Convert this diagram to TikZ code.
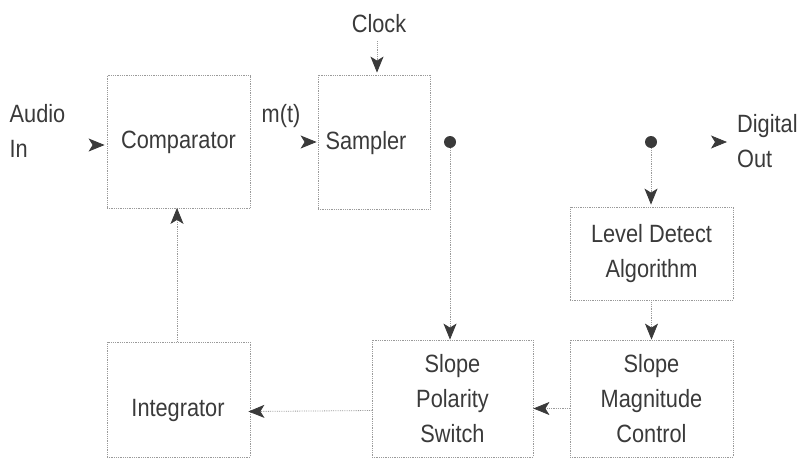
\documentclass[tikz,border=0pt]{standalone}
\usepackage{fontspec}
\setmainfont{Liberation Sans}[FakeStretch=0.87]
\usetikzlibrary{arrows.meta}
\definecolor{ink}{HTML}{3A3A3A}
\definecolor{edge}{HTML}{9A9A9A}
\tikzset{
  box/.style={draw=edge, densely dotted, line width=0.8pt, inner sep=0pt, text=ink, align=center},
  txt/.style={inner sep=0pt, text=ink, align=center},
  arr/.style={draw=edge, densely dotted, line width=0.8pt,
    -{Stealth[length=16pt, width=13pt, inset=4pt, color=ink]}},
  headonly/.style={draw=white},
  junction/.style={circle, fill=ink, inner sep=0pt, minimum size=12pt}
}
\begin{document}
\begin{tikzpicture}[x=1pt, y=-1pt]
\fontsize{25}{35}\selectfont
\useasboundingbox (0,0) rectangle (798,458);
% boxes
\node[box, minimum width=143pt, minimum height=133pt] (cmp) at (178.5,142) {Comparator};
\node[box, minimum width=112pt, minimum height=134pt] (smp) at (374,142) {};
\node[txt] (smpt) at (366,143) {Sampler};
\node[box, minimum width=163pt, minimum height=93pt] (lvl) at (651.5,253.5) {Level Detect\\Algorithm};
\node[box, minimum width=163pt, minimum height=117pt] (mag) at (651.5,398.5) {Slope\\Magnitude\\Control};
\node[box, minimum width=161pt, minimum height=117pt] (pol) at (452.5,398.5) {Slope\\Polarity\\Switch};
\node[box, minimum width=143pt, minimum height=115pt] (int) at (178.5,399.5) {};
\node[txt] (intt) at (178,410) {Integrator};
% labels
\node[txt, align=left] (audio) at (37.5,131) {Audio\\In};
\node[txt] (mt) at (281,116) {m(t)};
\node[txt] (clock) at (379,24) {Clock};
\node[txt, align=left, anchor=west] (dout) at (737,141) {Digital\\Out};
% junctions
\node[junction] (j1) at (450,142) {};
\node[junction] (j2) at (651,142) {};
% connectors
\draw[arr, headonly, shorten <=26pt, shorten >=2pt] ([yshift=-3pt]audio.east |- cmp.west) -- ([yshift=-3pt]cmp.west);
\draw[arr, headonly, shorten <=50pt, shorten >=1pt] (cmp.east) -- (smp.west);
\draw[arr, shorten <=8pt, shorten >=2pt] (clock.south -| 377,0) -- (377,0 |- smp.north);
\draw[arr, shorten >=0pt] (j1) -- (j1 |- pol.north);
\draw[arr, shorten >=2pt] (j2) -- (j2 |- lvl.north);
\draw[arr, headonly, shorten <=58pt, shorten >=10pt] (j2) -- (j2 -| dout.west);
\draw[arr] (lvl.south) -- (mag.north);
\draw[arr] ([yshift=-10pt]mag.west) -- ([yshift=-10pt]pol.east);
\draw[arr, shorten >=-2pt] ([yshift=-12pt]pol.west) -- ([yshift=-12pt]int.east);
\draw[arr, shorten >=-1pt] (int.north -| 177,0) -- (177,0 |- cmp.south);
\end{tikzpicture}
\end{document}
